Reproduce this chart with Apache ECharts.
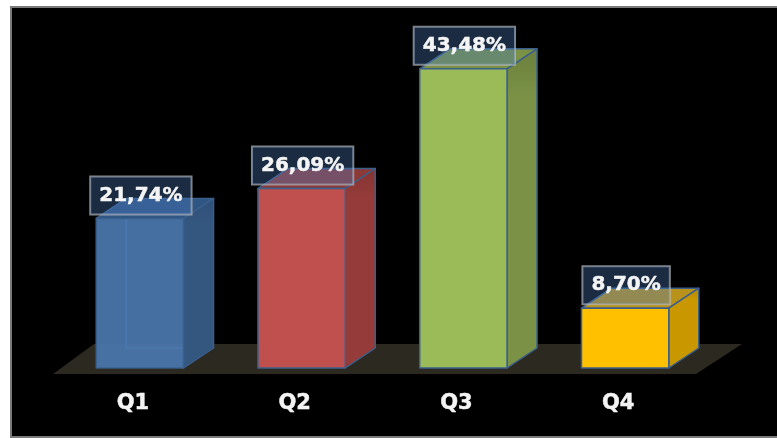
<!DOCTYPE html>
<html>
<head>
<meta charset="utf-8">
<style>
html,body{margin:0;padding:0;background:#fff;overflow:hidden}
#frame{position:absolute;left:10px;top:6px;width:790px;height:428px;background:#000;border:2px solid #7a7a7a}
#chart{position:absolute;left:0;top:0;width:777px;height:438px;filter:blur(0.5px)}
</style>
<script src="https://cdn.jsdelivr.net/npm/echarts@6/dist/echarts.min.js"></script>
</head>
<body>
<div id="frame"></div>
<div id="chart"></div>
<script>
var categories = ['Q1', 'Q2', 'Q3', 'Q4'];
var shares = [21.74, 26.09, 43.48, 8.70];
var shareLabels = ['21,74%', '26,09%', '43,48%', '8,70%'];

var faces = [
  {front: '#4a76ad', side: '#34577f', sideDark: '#2f4f78', top: '#2f5583', opacity: 0.93},
  {front: '#c0504d', side: '#953c3a', sideDark: '#843432', top: '#8c3a38', opacity: 1},
  {front: '#9bbb59', side: '#7a9146', sideDark: '#6b803d', top: '#7a9146', opacity: 1},
  {front: '#ffc000', side: '#c99700', sideDark: '#b58800', top: '#b8921a', opacity: 1}
];
var EDGE = '#3a5f8c', DX = 30, DY = 20, FONT = '"DejaVu Sans"';

function renderFloor(params, api) {
  var c = params.coordSys;
  var by = c.y + c.height;
  return {
    type: 'polygon', silent: true,
    shape: {points: [
      [c.x - 6, by + 6], [c.x + 35, by - 24],
      [c.x + c.width + 36, by - 24], [c.x + c.width - 10, by + 6]
    ]},
    style: {fill: '#2c2920'}
  };
}

function renderBar(params, api) {
  var i = api.value(0), f = faces[i];
  var base = api.coord([i, 0]), tip = api.coord([i, api.value(1)]);
  var w = api.size([1, 0])[0] * 0.54;
  var l = base[0] - w / 2, r = base[0] + w / 2, t = tip[1], b = base[1];
  var line = {stroke: EDGE, lineWidth: 1.5, lineJoin: 'round'};
  var kids = [];
  if (f.opacity < 1) {
    kids.push({type: 'polyline', shape: {points: [[l + DX, t - DY], [l + DX, b - DY], [r + DX, b - DY]]},
      style: {fill: null, stroke: '#4f86c8', lineWidth: 1.5}});
  }
  kids.push(
    {type: 'polygon', shape: {points: [[l, t], [l + DX, t - DY], [r + DX, t - DY], [r, t]]},
      style: Object.assign({fill: f.top}, line)},
    {type: 'polygon', shape: {points: [[r, t], [r + DX, t - DY], [r + DX, b - DY], [r, b]]},
      style: Object.assign({fill: {type: 'linear', x: 0, y: 0, x2: 0, y2: 1, colorStops: [
        {offset: 0, color: f.sideDark}, {offset: 0.15, color: f.side}, {offset: 1, color: f.side}
      ]}}, line)},
    {type: 'rect', shape: {x: l, y: t, width: r - l, height: b - t},
      style: Object.assign({fill: f.front, opacity: f.opacity}, line)},
    {type: 'text', x: base[0] + 1, y: t - 23, z2: 10,
      style: {
        text: shareLabels[i], align: 'center', verticalAlign: 'middle',
        font: 'bold 20px ' + FONT, fill: '#f4f4f4',
        stroke: '#f4f4f4', lineWidth: 0.5,
        backgroundColor: 'rgba(74,123,188,0.35)',
        borderColor: 'rgba(190,190,190,0.7)', borderWidth: 1,
        padding: [10, 9, 8, 9]
      }}
  );
  return {type: 'group', children: kids};
}

var chart = echarts.init(document.getElementById('chart'), null, {renderer: 'canvas'});
chart.setOption({
  animation: false,
  backgroundColor: 'transparent',
  grid: {left: 59, top: 24, width: 647, height: 344},
  xAxis: {
    type: 'category', data: categories,
    axisLine: {show: false}, axisTick: {show: false},
    axisLabel: {color: '#f4f4f4', fontFamily: FONT, fontWeight: 'bold', fontSize: 21, margin: 25,
      textBorderColor: '#f4f4f4', textBorderWidth: 0.5, padding: [0, 14, 0, 0]}
  },
  yAxis: {type: 'value', min: 0, max: 50, show: false},
  series: [
    {type: 'custom', coordinateSystem: 'cartesian2d', renderItem: renderFloor, data: [[0, 0]], z: 1, silent: true, clip: false},
    {type: 'custom', coordinateSystem: 'cartesian2d', renderItem: renderBar, z: 2, silent: true, clip: false,
      encode: {x: 0, y: 1},
      data: shares.map(function (v, i) { return [i, v]; })}
  ]
});
</script>
</body>
</html>
